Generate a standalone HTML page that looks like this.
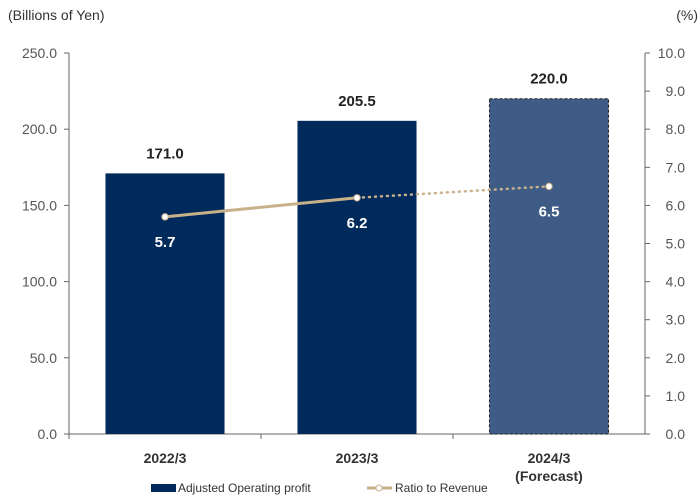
<!DOCTYPE html>
<html><head><meta charset="utf-8"><style>
html,body{margin:0;padding:0;background:#fff;}
svg{display:block;font-family:"Liberation Sans","DejaVu Sans",sans-serif;}
</style></head><body>
<svg id="chart" width="700" height="500" viewBox="0 0 700 500">
<g id="axes"></g><g id="bars"></g><g id="line"></g>
<text x="8" y="20" font-size="14" fill="#333">(Billions of Yen)</text>
<text x="698" y="20" font-size="14" fill="#333" text-anchor="end">(%)</text>
<g>
<rect x="151" y="484" width="25" height="8" fill="#002A5C"/>
<text x="178" y="492" font-size="12" fill="#333">Adjusted Operating profit</text>
<line x1="367" y1="488" x2="392" y2="488" stroke="#C8B08A" stroke-width="3"/>
<circle cx="379" cy="488" r="3" fill="#fff" stroke="#C8B08A"/>
<text x="395" y="492" font-size="12" fill="#333">Ratio to Revenue</text>
</g>
</svg>
<script>
const categories=["2022/3","2023/3","2024/3"];
const subLabels=["","","(Forecast)"];
const profit=[171.0,205.5,220.0];
const ratio=[5.7,6.2,6.5];
const leftTicks=[0,50,100,150,200,250];
const rightTicks=[0,1,2,3,4,5,6,7,8,9,10];
const forecast=[false,false,true];

const NS="http://www.w3.org/2000/svg";
const X0=69,X1=645,Y0=434,Y1=53;
const band=(X1-X0)/categories.length;
const xc=i=>X0+band*(i+0.5);
const yL=v=>Y0-(v/250)*(Y0-Y1);
const yR=v=>Y0-(v/10)*(Y0-Y1);
function mk(tag,attrs,parent,txt){const e=document.createElementNS(NS,tag);for(const k in attrs)e.setAttribute(k,attrs[k]);if(txt!==undefined)e.textContent=txt;parent.appendChild(e);return e;}
const axes=document.getElementById('axes'),bars=document.getElementById('bars'),line=document.getElementById('line');

let e=mk('line',{x1:X0,y1:Y0,x2:X1,y2:Y0,stroke:'#666'},axes);


e=mk('line',{x1:X0,y1:Y1,x2:X0,y2:Y0,stroke:'#666'},axes);


e=mk('line',{x1:X1,y1:Y1,x2:X1,y2:Y0,stroke:'#666'},axes);


leftTicks.forEach(v=>{const y=yL(v);
 mk('line',{x1:X0-5,y1:y,x2:X0,y2:y,stroke:'#666'},axes);
 const t=mk('text',{x:X0-12,y:y+5,'font-size':14,fill:'#555','text-anchor':'end'},axes,v.toFixed(1));
 
 });
rightTicks.forEach(v=>{const y=yR(v);
 mk('line',{x1:X1,y1:y,x2:X1+5,y2:y,stroke:'#666'},axes);
 const t=mk('text',{x:685,y:y+5,'font-size':14,fill:'#555','text-anchor':'end'},axes,v.toFixed(1));
 
 });
categories.forEach((c,i)=>{
 mk('line',{x1:X0+band*i,y1:Y0,x2:X0+band*i,y2:Y0+5,stroke:'#666'},axes);
 const t=mk('text',{x:xc(i),y:463,'font-size':14,'font-weight':'bold',fill:'#333','text-anchor':'middle'},axes,c);
 
 
 if(subLabels[i]){const s=mk('text',{x:xc(i),y:481,'font-size':14,'font-weight':'bold',fill:'#333','text-anchor':'middle'},axes,subLabels[i]);
 
 }
});
mk('line',{x1:X1,y1:Y0,x2:X1+5,y2:Y0,stroke:'#666'},axes);

const bw=band*0.62;
profit.forEach((v,i)=>{
 const y=yL(v);
 const r=mk('rect',{x:xc(i)-bw/2,y:y,width:bw,height:Y0-y,fill:forecast[i]?'#3E5C85':'#002A5C'},bars);
 if(forecast[i]){r.setAttribute('stroke','#222');r.setAttribute('stroke-dasharray','3,2');}
 
 
 const t=mk('text',{x:xc(i),y:y-15,'font-size':15,'font-weight':'bold',fill:'#222','text-anchor':'middle'},bars,v.toFixed(1));
 
 
});
for(let i=0;i<ratio.length-1;i++){
 const dotted=forecast[i+1];
 const l=mk('line',{x1:xc(i),y1:yR(ratio[i]),x2:xc(i+1),y2:yR(ratio[i+1]),stroke:'#C8B08A','stroke-width':dotted?2.5:3},line);
 if(dotted){l.setAttribute('stroke-dasharray','1,5');l.setAttribute('stroke-linecap','round');}
 
 
}
ratio.forEach((v,i)=>{
 const p=mk('circle',{cx:xc(i),cy:yR(v),r:3.2,fill:'#fff',stroke:'#C8B08A','stroke-width':1},line);
 
 
 const t=mk('text',{x:xc(i),y:yR(v)+30,'font-size':15,'font-weight':'bold',fill:'#fff','text-anchor':'middle'},line,v.toFixed(1));
 
 
});
</script>
</body></html>
